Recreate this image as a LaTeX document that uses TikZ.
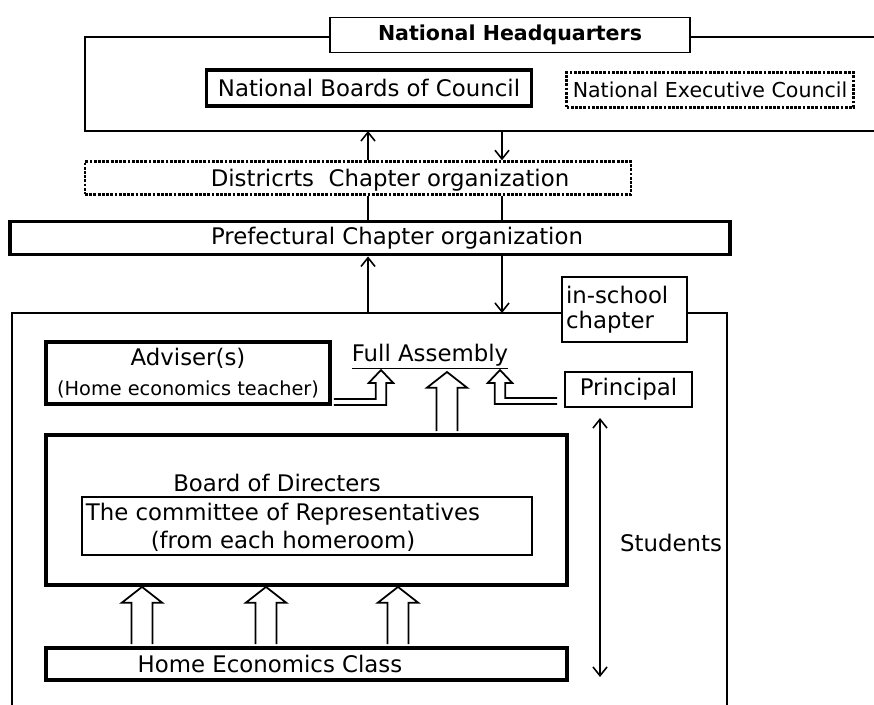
\documentclass[tikz,border=0pt]{standalone}
\usepackage{fontspec}
\setmainfont{DejaVu Sans}
\usetikzlibrary{arrows.meta,calc}
\tikzset{box/.style = {draw, line width=1.1pt, inner sep=0pt, fill=white}}
\tikzset{tbox/.style = {box, line width=2.2pt}}
\tikzset{dbox/.style = {box, line width=1.4pt, dash pattern=on 1.6pt off 0.8pt}}
\tikzset{edge/.style = {-{Straight Barb[length=5pt,width=8pt]}, line width=0.9pt}}
\tikzset{dedge/.style = {{Straight Barb[length=5pt,width=8pt]}-{Straight Barb[length=5pt,width=8pt]}, line width=0.9pt}}
\tikzset{hollow/.style = {draw, line width=1pt, fill=white}}
\newcommand{\hup}[2]{%
  \draw[hollow] let \p1=(#1), \p2=(#2) in
    (\x1-6pt,\y1+1.1pt) -- (\x1-6pt,\y2-9pt) -- (\x1-11.5pt,\y2-9pt) -- (\x1,\y2)
    -- (\x1+11.5pt,\y2-9pt) -- (\x1+6pt,\y2-9pt) -- (\x1+6pt,\y1+1.1pt);}
\begin{document}
\begin{tikzpicture}[x=0.02cm, y=-0.02cm, font=\fontsize{13}{16}\selectfont]
\useasboundingbox (0,0) rectangle (874,705);
% national level
\node[box, minimum width=7.2cm, minimum height=0.7cm, font=\fontsize{11.7}{14}\selectfont\bfseries] (hq) at (510,35) {National Headquarters};
\coordinate (f1) at (85,37);
\coordinate (f2) at (85,131);
\coordinate (f3) at (874,131);
\coordinate (f4) at (874,37);
\draw[line width=1.1pt] (hq.west |- f1) -- (f1) -- (f2) -- (f3);
\draw[line width=1.1pt] (hq.east |- f4) -- (f4);
\node[tbox, minimum width=6.5cm, minimum height=0.72cm] (nbc) at (369,88) {National Boards of Council};
\node[dbox, minimum width=5.74cm, minimum height=0.7cm, font=\fontsize{11.7}{14}\selectfont] (nec) at (710,90) {National Executive Council};
% districts and prefecture
\node[dbox, minimum width=10.92cm, minimum height=0.66cm] (dist) at (358,178) {};
\node (distt) at (390,180) {Districrts\ \ Chapter organization};
\node[tbox, minimum width=14.4cm, minimum height=0.66cm] (pref) at (370,238) {};
\node (preft) at (397,238) {Prefectural Chapter organization};
\coordinate (u1) at (368,0);
\coordinate (d1) at (502,0);
\draw[edge] (dist.north -| u1) -- (f2 -| u1);
\draw[edge] (f2 -| d1) -- (dist.north -| d1);
\draw[line width=0.9pt] (dist.south -| u1) -- (pref.north -| u1);
\draw[line width=0.9pt] (dist.south -| d1) -- (pref.north -| d1);
% school
\coordinate (s1) at (12,712);
\coordinate (s2) at (12,313);
\coordinate (s3) at (727,313);
\coordinate (s4) at (727,712);
\draw[line width=1.1pt] (s1) -- (s2) -- (s3) -- (s4);
\draw[edge] (s2 -| u1) -- (pref.south -| u1);
\draw[edge] (pref.south -| d1) -- (s2 -| d1);
\node[box, minimum width=2.5cm, minimum height=1.3cm, text width=2.34cm, inner xsep=0.08cm, align=left, font=\fontsize{13}{14.5}\selectfont] (isc) at (624.5,309.5) {in-school\\chapter};
\node[tbox, minimum width=5.68cm, minimum height=1.24cm, align=center] (adv) at (188,373) {Adviser(s)\\[1pt]{\fontsize{11}{13}\selectfont(Home economics teacher)}};
\node[inner sep=1pt] (fa) at (430,357) {\underline{Full Assembly}};
\node[box, minimum width=2.54cm, minimum height=0.7cm] (prin) at (628.5,389.5) {Principal};
\node[tbox, minimum width=10.42cm, minimum height=3cm] (board) at (306.5,510) {};
\node (bdt) at (277,483) {Board of Directers};
\node[box, minimum width=9cm, minimum height=1.16cm] (com) at (307,526) {};
\node[align=center] (comt) at (283,527) {The committee of Representatives\\(from each homeroom)};
\node[tbox, minimum width=10.42cm, minimum height=0.64cm] (hec) at (306.5,664) {};
\node (hect) at (270,664) {Home Economics Class};
% hollow arrows
\coordinate (b1) at (142,0);
\coordinate (b2) at (266,0);
\coordinate (b3) at (398,0);
\hup{hec.north -| b1}{board.south -| b1}
\hup{hec.north -| b2}{board.south -| b2}
\hup{hec.north -| b3}{board.south -| b3}
\coordinate (c1) at (447,372);
\hup{board.north -| c1}{c1}
\coordinate (a1) at (381,370);
\coordinate (a2) at (500,370);
\draw[hollow] let \p1=(a1), \p2=($(adv.south east)+(0,-4)$) in
  (\x2+1.1pt,\y2+1.7pt) -- (\x1-3pt,\y2+1.7pt) -- (\x1-3pt,\y1-7.4pt) -- (\x1-7pt,\y1-7.4pt) -- (\x1,\y1)
  -- (\x1+7pt,\y1-7.4pt) -- (\x1+3pt,\y1-7.4pt) -- (\x1+3pt,\y2-1.7pt) -- (\x2+1.1pt,\y2-1.7pt);
\draw[hollow] let \p1=(a2), \p2=($(prin.west)+(-7,11.5)$) in
  (\x2,\y2+1.7pt) -- (\x1+3pt,\y2+1.7pt) -- (\x1+3pt,\y1-7.4pt) -- (\x1+7pt,\y1-7.4pt) -- (\x1,\y1)
  -- (\x1-7pt,\y1-7.4pt) -- (\x1-3pt,\y1-7.4pt) -- (\x1-3pt,\y2-1.7pt) -- (\x2,\y2-1.7pt);
% students
\coordinate (st1) at (600,418);
\coordinate (st2) at (600,677);
\draw[dedge] (st2) -- (st1);
\node (stu) at (671,543) {Students};
\end{tikzpicture}
\end{document}
